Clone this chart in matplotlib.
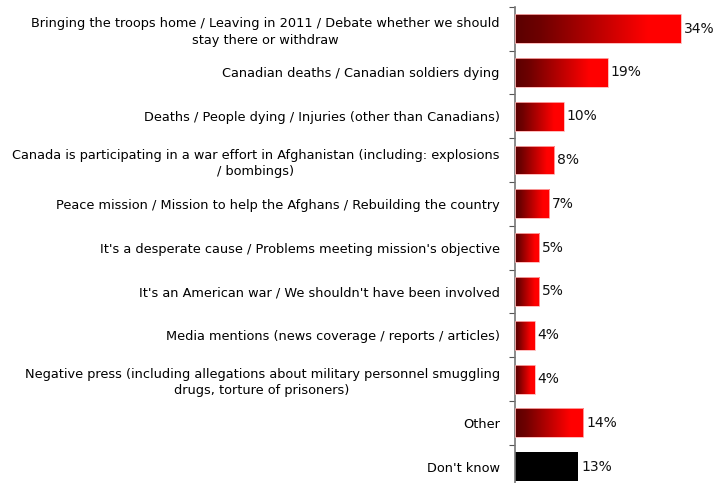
import numpy as np
import matplotlib.pyplot as plt
from matplotlib.colors import LinearSegmentedColormap

# Survey answers, top to bottom
labels = [
    "Bringing the troops home / Leaving in 2011 / Debate whether we should\nstay there or withdraw",
    "Canadian deaths / Canadian soldiers dying",
    "Deaths / People dying / Injuries (other than Canadians)",
    "Canada is participating in a war effort in Afghanistan (including: explosions\n/ bombings)",
    "Peace mission / Mission to help the Afghans / Rebuilding the country",
    "It's a desperate cause / Problems meeting mission's objective",
    "It's an American war / We shouldn't have been involved",
    "Media mentions (news coverage / reports / articles)",
    "Negative press (including allegations about military personnel smuggling\ndrugs, torture of prisoners)",
    "Other",
    "Don't know",
]
values = [34, 19, 10, 8, 7, 5, 5, 4, 4, 14, 13]

red_grad = LinearSegmentedColormap.from_list(
    "redgrad", [(0, "#5a0000"), (0.15, "#6e0000"), (0.8, "#ff0000"), (1, "#ff0000")])

fig = plt.figure(figsize=(7.18, 4.83), dpi=100)
ax = fig.add_axes([515 / 718, -0.0116, 1 - 515 / 718, 0.9977])

y = np.arange(len(values))
bar_h = 0.66
grad = np.linspace(0, 1, 256).reshape(1, -1)

for i, v in enumerate(values):
    if labels[i] == "Don't know":
        ax.barh(i, v, height=bar_h, color="black", zorder=2)
    else:
        patch = ax.barh(i, v, height=bar_h, color="none", edgecolor="#ffb0b0",
                        linewidth=0.6, zorder=3)[0]
        im = ax.imshow(grad, cmap=red_grad, aspect="auto", zorder=2,
                       extent=(0, v, i + bar_h / 2, i - bar_h / 2))
        im.set_clip_path(patch)
    ax.text(v + 0.6, i, f"{v}%", va="center", ha="left", fontsize=10,
            color="#111111")

ax.set_xlim(0, 41.6)
ax.set_ylim(len(values) - 0.5, -0.5)

ax.set_yticks(y)
ax.set_yticklabels(labels, fontsize=9.3, linespacing=1.35, multialignment="center")
ax.tick_params(axis="y", which="major", length=0, pad=11)
ax.set_yticks(np.arange(-0.5, len(values), 1), minor=True)
ax.tick_params(axis="y", which="minor", length=4, width=0.8, color="#555555")
ax.set_xticks([])

for s in ["top", "right", "bottom"]:
    ax.spines[s].set_visible(False)
ax.spines["left"].set_color("#777777")
ax.spines["left"].set_linewidth(1.2)

fig.savefig("out.png", dpi=100)
